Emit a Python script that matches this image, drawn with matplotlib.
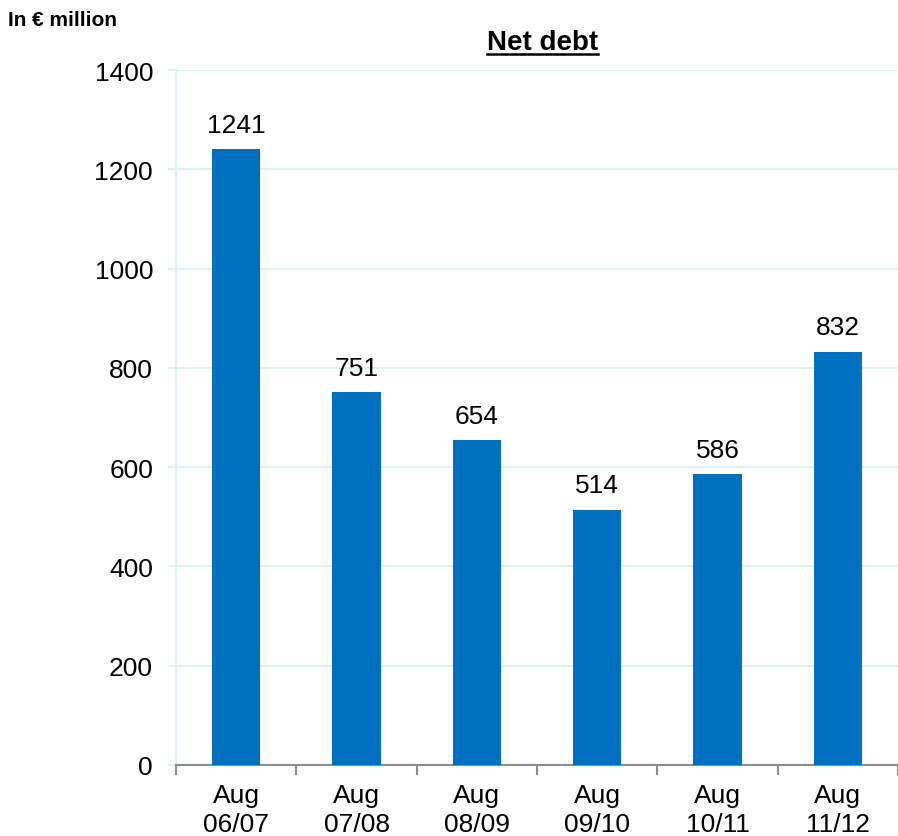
import matplotlib
matplotlib.use("Agg")
import matplotlib.pyplot as plt
from matplotlib.lines import Line2D

plt.rcParams["font.family"] = ["Liberation Sans", "DejaVu Sans"]

# Data
periods = ["Aug\n06/07", "Aug\n07/08", "Aug\n08/09", "Aug\n09/10", "Aug\n10/11", "Aug\n11/12"]
net_debt = [1241, 751, 654, 514, 586, 832]
y_ticks = [0, 200, 400, 600, 800, 1000, 1200, 1400]

BAR_BLUE = "#0070C0"
GRID = "#DDF2F4"
AXIS_GRAY = "#8C8C8C"
FS = 19

fig = plt.figure(figsize=(8.98, 8.37), dpi=100, facecolor="white")
ax = fig.add_axes([0.196, 0.085, 0.804, 0.830])

x = list(range(len(periods)))
bars = ax.bar(x, net_debt, width=0.4, color=BAR_BLUE, zorder=3)

ax.set_xlim(-0.5, len(periods) - 0.5)
ax.set_ylim(0, 1400)
ax.set_yticks(y_ticks)
ax.yaxis.grid(True, color=GRID, linewidth=1.5, zorder=0)
ax.set_axisbelow(True)

for side in ["top", "right"]:
    ax.spines[side].set_visible(False)
ax.spines["left"].set_color(GRID)
ax.spines["left"].set_linewidth(1.5)
ax.spines["bottom"].set_color(AXIS_GRAY)
ax.spines["bottom"].set_linewidth(1.5)

ax.tick_params(axis="y", colors=GRID, labelcolor="black", labelsize=FS,
               length=5.5, width=1.5, pad=11)

# category labels centred, tick marks at the boundaries
ax.set_xticks(x)
ax.set_xticklabels(periods, fontsize=FS, linespacing=1.25)
ax.tick_params(axis="x", length=0, pad=13)
ax.set_xticks([i - 0.5 for i in range(len(periods) + 1)], minor=True)
ax.tick_params(axis="x", which="minor", length=7, width=1.5, color=AXIS_GRAY)

for b, v in zip(bars, net_debt):
    ax.annotate(f"{v}", (b.get_x() + b.get_width() / 2, v),
                xytext=(0, 9), textcoords="offset points",
                ha="center", va="bottom", fontsize=FS)

title = fig.text(0.604, 0.949, "Net debt", ha="center", va="center",
                 fontsize=20, fontweight="bold")
fig.text(0.009, 0.975, "In € million", ha="left", va="center",
         fontsize=15, fontweight="bold")

# underline the title
fig.canvas.draw()
bb = title.get_window_extent().transformed(fig.transFigure.inverted())
fig.add_artist(Line2D([bb.x0, bb.x1], [bb.y0 + 0.001, bb.y0 + 0.001],
                      transform=fig.transFigure, color="black", linewidth=1.8))

fig.savefig("out.png", dpi=100, facecolor="white")
